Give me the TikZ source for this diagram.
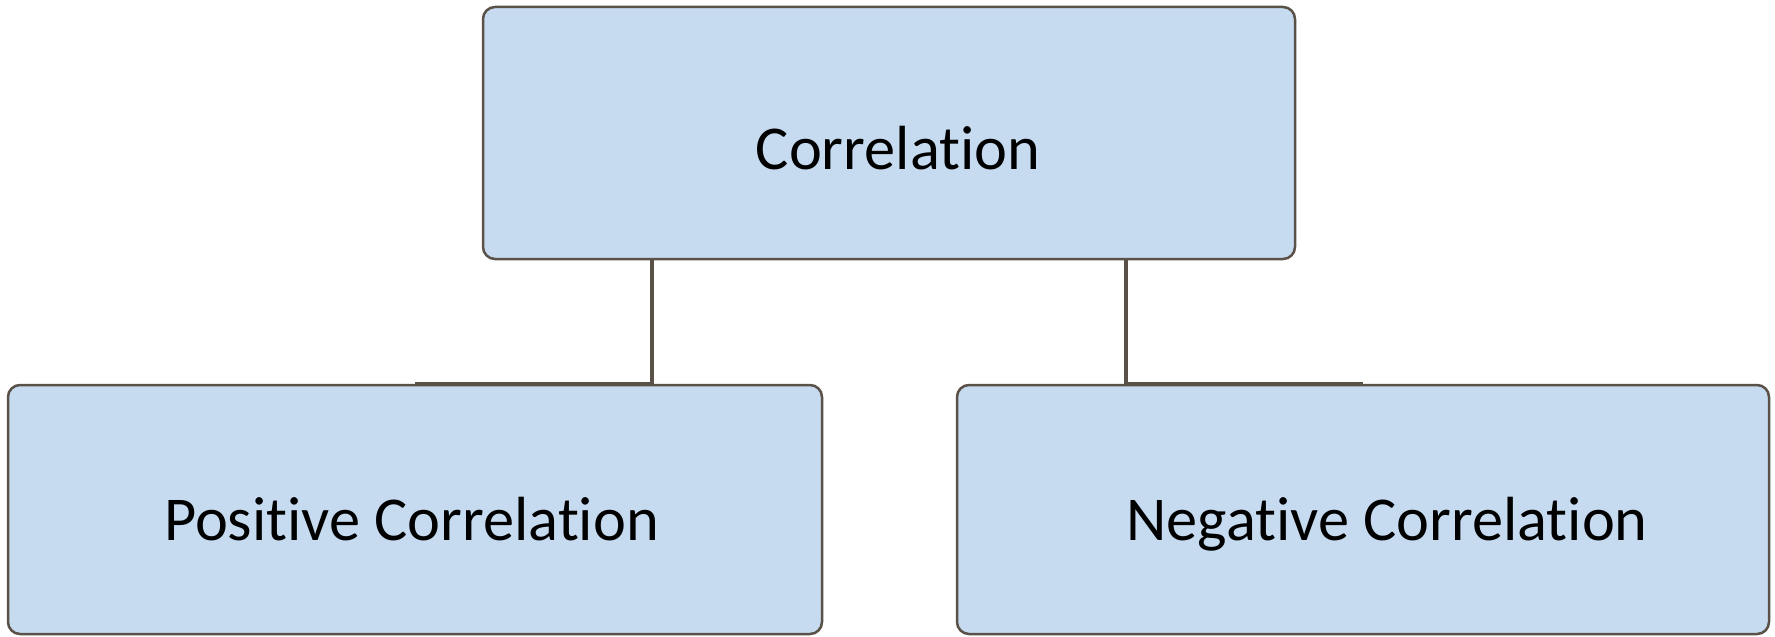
\documentclass[tikz,border=0pt]{standalone}
\usepackage{fontspec}
\setmainfont[Ligatures=NoCommon]{Carlito}
\usepackage{tikz}
\definecolor{boxblue}{RGB}{198,219,240}
\definecolor{boxline}{RGB}{90,82,72}
\tikzset{
  hier_box/.style = {rectangle, rounded corners=0.24cm, draw=boxline,
    fill=boxblue, line width=0.05cm, inner sep=0pt},% boite de la hierarchie
  hier_txt/.style = {anchor=base, inner sep=0pt, text=black,
    font=\fontsize{35.5}{42}\selectfont},% texte des boites
  hier_link/.style = {draw=boxline, line width=0.08cm},% trait de liaison
}

\begin{document}
\begin{tikzpicture}
  \useasboundingbox (0,0) rectangle (35.5,12.72);

  \node[hier_box, minimum width=16.24cm, minimum height=5.04cm] (corr) at (17.78,10.06) {};
  \node[hier_box, minimum width=16.28cm, minimum height=4.98cm] (pos) at (8.30,2.53) {};
  \node[hier_box, minimum width=16.24cm, minimum height=4.98cm] (neg) at (27.26,2.53) {};

  \node[hier_txt] (corr_t) at (17.96,9.32) {Correlation};
  \node[hier_txt] (pos_t) at (8.23,1.92) {Positive Correlation};
  \node[hier_txt] (neg_t) at (27.74,1.92) {Negative Correlation};

  %   liaisons
  \path[hier_link] ([xshift=-4.74cm]corr.south) |- (pos.north);
  \path[hier_link] ([xshift=4.74cm]corr.south) |- (neg.north);
\end{tikzpicture}
\end{document}
